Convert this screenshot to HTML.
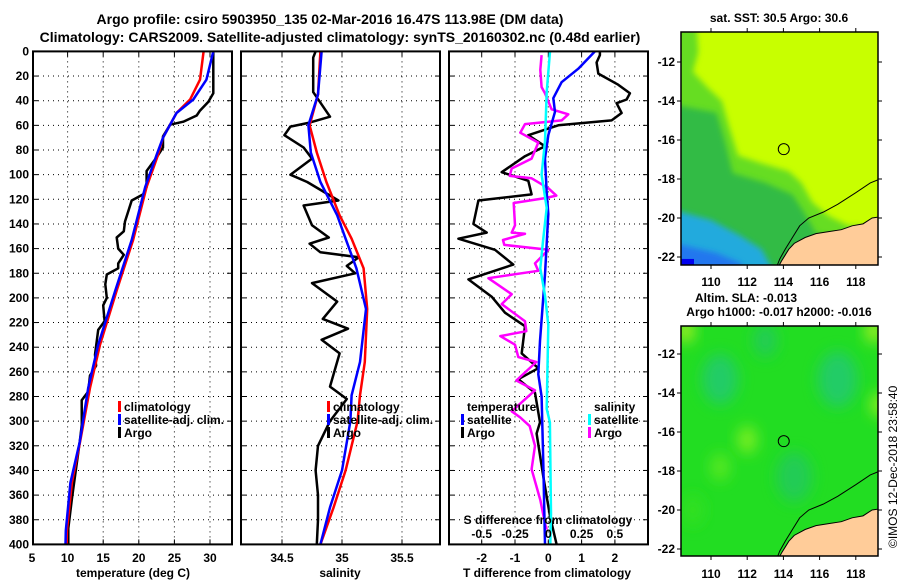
<!DOCTYPE html>
<html><head><meta charset="utf-8"><style>
html,body{margin:0;padding:0;background:#fff;width:900px;height:580px;overflow:hidden}
svg text{font-family:"Liberation Sans",Arial,sans-serif;font-weight:bold;font-size:12px;fill:#000}
</style></head><body>
<svg id="fig" xmlns="http://www.w3.org/2000/svg" width="900" height="580" viewBox="0 0 900 580">
<defs>
<filter id="blur6" x="-50%" y="-50%" width="200%" height="200%"><feGaussianBlur stdDeviation="7"/></filter>
<filter id="blur3"><feGaussianBlur stdDeviation="3"/></filter>
<clipPath id="cm1"><rect x="681" y="32" width="197" height="233"/></clipPath>
<clipPath id="cm2"><rect x="681" y="326" width="197" height="230"/></clipPath>
</defs>
<text x="330" y="24" text-anchor="middle" style="font-size:14px">Argo profile: csiro 5903950_135 02-Mar-2016 16.47S 113.98E (DM data)</text>
<text x="340" y="42" text-anchor="middle" style="font-size:14px">Climatology: CARS2009. Satellite-adjusted climatology: synTS_20160302.nc (0.48d earlier)</text>
<g id="g1"></g>
<g id="g2"></g>
<g id="g3"></g>
<g id="m1"></g>
<g id="m2"></g>
<text x="0" y="0" transform="translate(897,548) rotate(-90)" style="font-weight:normal;font-size:12px">©IMOS 12-Dec-2018 23:58:40</text>
</svg>
<script>
// ---- data ----
const depthTicks=[0,20,40,60,80,100,120,140,160,180,200,220,240,260,280,300,320,340,360,380,400];
const tempTicks=[5,10,15,20,25,30];
const salTicks=[34.5,35,35.5];
const salTickLabels=["34.5","35","35.5"];
const tdTicks=[-2,-1,0,1,2];
const sdTickLabels=["-0.5","-0.25","0","0.25","0.5"];
const sdTicks=[-0.5,-0.25,0,0.25,0.5];
const latTicks=[-12,-14,-16,-18,-20,-22];
const lonTicks=[110,112,114,116,118];

const climTDepth=[0,23,39,50,70,84,110,153,194,238,273,317,350,389,400];
const climT=[29.1,28.6,27.2,25.3,23.4,22.7,21.1,19.2,16.9,14.55,13.15,11.74,10.6,9.9,9.87];
const satT=[30.46,29.5,27.65,25.3,23.4,22.5,20.9,19.0,16.7,14.3,12.9,11.7,10.4,9.75,9.7];
const argoTDepth=[0,3,34,41,48,52,57,59.5,69,78,86,97,110,116,121,138,146,151,160,165,172,176,181,189,200,206,219,226,246,255,263,276,283,303,317,344,363,387,400];
const argoT=[30.46,30.46,30.46,29.76,28.6,28.13,26.25,24.4,23.4,23.4,22.5,21.1,21.1,20.6,19.0,18.06,17.9,16.9,17.1,17.9,17.1,17.1,15.5,15.3,15.5,15.0,15.2,14.3,13.85,14.0,13.15,12.9,11.98,12.0,11.7,11.05,10.6,10.1,10.1];

const climSDepth=[0,35,60,82,106,133,152,176,209,252,279,300,340,370,400];
const climS=[34.82,34.8,34.73,34.79,34.87,34.98,35.08,35.18,35.21,35.19,35.15,35.13,35.03,34.93,34.82];
const satS=[34.83,34.8,34.72,34.74,34.82,34.96,35.03,35.12,35.2,35.15,35.08,35.07,35.0,34.9,34.82];
const argoSDepth=[0,5,33,53,58,61,68,78,87,100,106,121,125,141,151,156,163,167,174,180,188,203,217,225,234,245,272,282,300,320,340,360,380,400];
const argoS=[34.78,34.76,34.76,34.9,34.72,34.57,34.52,34.68,34.75,34.57,34.71,34.97,34.68,34.75,34.89,34.73,34.82,35.14,35.04,35.11,34.75,34.96,34.84,35.05,34.83,34.98,34.9,35.04,34.9,34.8,34.78,34.8,34.8,34.79];

const dArgoTDepth=[0,3,9,18,27,34,39,42,50,56,60,68,77,85,98,105,116,121,140,147,152,161,173,185,199,212,223,245,257,266,277,301,310,345,377,400];
const dArgoT=[1.55,1.55,1.45,1.5,2.1,2.45,2.35,2.05,2.2,1.9,0.3,-0.6,-0.1,-0.7,-1.4,-0.6,-0.5,-2.1,-2.25,-1.85,-2.7,-1.6,-1.05,-2.4,-1.7,-1.3,-0.7,-0.8,-0.3,-0.9,-0.4,-0.25,-0.35,-0.15,0.05,0.25];
const dSatTDepth=[0,14,25,38,49,68,87,113,132,181,235,262,280,334,400];
const dSatT=[1.4,0.9,0.4,0.15,0.2,0,-0.1,-0.05,0,-0.1,-0.25,-0.3,-0.2,-0.15,-0.1];
const dSatSDepth=[0,33,73,100,127,154,176,198,222,290,301,375,400];
const dSatS=[0.013,-0.012,-0.025,-0.05,-0.012,-0.04,-0.06,-0.025,0,-0.012,0.012,0.02,0.015];
const dArgoSDepth=[3,15,29,34,47,51,56,59,66,74,87,95,101,103,111,117,119,123,141,147,148,153,157,161,172,178,184,197,205,219,227,231,238,248,252,267,275,292,297,304,320,339,364,383,388];
const dArgoS=[-0.05,-0.06,-0.05,-0.025,0.025,0.15,0.1,-0.175,-0.21,-0.075,-0.125,-0.275,-0.29,-0.125,0,0.06,-0.025,-0.26,-0.25,-0.275,-0.175,-0.34,-0.33,0,-0.1,-0.075,-0.45,-0.275,-0.35,-0.175,-0.165,-0.36,-0.25,-0.225,-0.09,-0.24,-0.1,-0.275,-0.21,-0.14,-0.1,-0.125,-0.06,-0.025,-0.012];

const argoLon=[114.02];
const argoLat=[-16.47];
// ---- helpers ----
const NS="http://www.w3.org/2000/svg";
function mk(parent,tag,attrs,txt){const e=document.createElementNS(NS,tag);for(const k in attrs)e.setAttribute(k,attrs[k]);if(txt!==undefined)e.textContent=txt;parent.appendChild(e);return e;}
const Y0=51.4,Y1=544.4,yD=d=>Y0+(Y1-Y0)*d/400;
function panel(g,x0,x1,name){
  const r=mk(g,'rect',{x:x0,y:Y0,width:x1-x0,height:Y1-Y0,fill:'#fff'});
  
  
}
function frame(g,x0,x1,name){
  const r=mk(g,'rect',{x:x0,y:Y0,width:x1-x0,height:Y1-Y0,fill:'none',stroke:'#000','stroke-width':2});
  
  
}
function hgrid(g,x0,x1,labels,name){
  depthTicks.forEach(d=>{const y=yD(d);
    if(d>0&&d<400){const l=mk(g,'line',{x1:x0,x2:x1,y1:y,y2:y,stroke:'#000','stroke-dasharray':'1 4','stroke-width':1});
      
      }
    const t1=mk(g,'line',{x1:x0,x2:x0+5,y1:y,y2:y,stroke:'#000'});
    const t2=mk(g,'line',{x1:x1-5,x2:x1,y1:y,y2:y,stroke:'#000'});
    if(labels){const t=mk(g,'text',{x:x0-4,y:y+4,'text-anchor':'end'},String(d));}
  });
}
function vgrid(g,xs,lbls,xf,name,ly){
  xs.forEach((v,i)=>{const x=xf(v);
    const l=mk(g,'line',{x1:x,x2:x,y1:Y0,y2:Y1,stroke:'#000','stroke-dasharray':'1 4'});
    const tk=mk(g,'line',{x1:x,x2:x,y1:Y1-5,y2:Y1,stroke:'#000'});
    const tk2=mk(g,'line',{x1:x,x2:x,y1:Y0,y2:Y0+5,stroke:'#000'});
    if(lbls){const t=mk(g,'text',{x:x,y:ly,'text-anchor':'middle'},lbls[i]);}
  });
}
function line(g,depths,vals,xf,color,name,w){
  const pts=depths.map((d,i)=>xf(vals[i]).toFixed(1)+','+yD(d).toFixed(1)).join(' ');
  const p=mk(g,'polyline',{points:pts,fill:'none',stroke:color,'stroke-width':w||2.5,'stroke-linejoin':'round'});
  
  
}
function legend(g,x,y,color,label,name){
  const m=mk(g,'rect',{x:x,y:y-10,width:3,height:11,fill:color});
  
  
  if(label){const t=mk(g,'text',{x:x+6,y:y},label);
  
  }
}
function txt(g,x,y,s,anchor,name){const t=mk(g,'text',{x:x,y:y,'text-anchor':anchor||'start'},s);
  
  return t;}

// ---- panel 1 temperature ----
const g1=document.getElementById('g1');
const xT=v=>32+(v-5)*7.12;
panel(g1,33,232,'temperature');
hgrid(g1,33,232,true,'temperature');
vgrid(g1,tempTicks.slice(1),tempTicks.slice(1).map(String),xT,'temperature',562);
txt(g1,32,562,'5','middle','temperature-x-tick-label');
line(g1,argoTDepth,argoT,xT,'#000','argo-temperature-line');
line(g1,climTDepth,climT,xT,'#f00','climatology-temperature-line');
line(g1,climTDepth,satT,xT,'#00f','satellite-temperature-line');
frame(g1,33,232,'temperature');
legend(g1,118,411,'#f00','climatology','legend-climatology');
legend(g1,118,424,'#00f','satellite-adj. clim.','legend-satellite');
legend(g1,118,437,'#000','Argo','legend-argo');
txt(g1,133,577,'temperature (deg C)','middle','x-axis-title-temperature');

// ---- panel 2 salinity ----
const g2=document.getElementById('g2');
const xS=v=>282+(v-34.5)*120;
panel(g2,241,440,'salinity');
hgrid(g2,241,440,false,'salinity');
vgrid(g2,salTicks,salTickLabels,xS,'salinity',562);
line(g2,argoSDepth,argoS,xS,'#000','argo-salinity-line');
line(g2,climSDepth,climS,xS,'#f00','climatology-salinity-line');
line(g2,climSDepth,satS,xS,'#00f','satellite-salinity-line');
frame(g2,241,440,'salinity');
legend(g2,327,411,'#f00','climatology','legend-climatology-s');
legend(g2,327,424,'#00f','satellite-adj. clim.','legend-satellite-s');
legend(g2,327,437,'#000','Argo','legend-argo-s');
txt(g2,340,577,'salinity','middle','x-axis-title-salinity');

// ---- panel 3 differences ----
const g3=document.getElementById('g3');
const xD=v=>548.3+v*33.3;
const xSD=v=>548.3+v*4*33.3;
panel(g3,449,648,'difference');
hgrid(g3,449,648,false,'difference');
vgrid(g3,tdTicks,tdTicks.map(String),xD,'t-difference',562);
line(g3,dArgoTDepth,dArgoT,xD,'#000','argo-t-difference-line');
line(g3,dArgoSDepth,dArgoS,xSD,'#f0f','argo-s-difference-line');
line(g3,dSatTDepth,dSatT,xD,'#00f','satellite-t-difference-line');
line(g3,dSatSDepth,dSatS,xSD,'#0ff','satellite-s-difference-line');
frame(g3,449,648,'difference');
txt(g3,467,411,'temperature','start','legend-temperature-heading');
legend(g3,461,424,'#00f','satellite','legend-t-satellite');
legend(g3,461,437,'#000','Argo','legend-t-argo');
txt(g3,594,411,'salinity','start','legend-salinity-heading');
legend(g3,588,424,'#0ff','satellite','legend-s-satellite');
legend(g3,588,437,'#f0f','Argo','legend-s-argo');
txt(g3,548,524,'S difference from climatology','middle','s-axis-title');
sdTicks.forEach((v,i)=>{txt(g3,xSD(v),538,sdTickLabels[i],'middle','s-difference-tick-label');});
txt(g3,547,577,'T difference from climatology','middle','x-axis-title-t-difference');

// ---- maps ----
function drawMap(id,top,bot,lat12y,kind,lblY){
  const g=document.getElementById(id);
  const L=681,R=878;
  const lx=v=>711+(v-110)*18.1;
  const ly=v=>lat12y+(-12-v)*19.5;
  const clip=mk(g,'g',{'clip-path':'url(#c'+id+')'});
  
  
  const P=(pts,fill,f)=>mk(clip,'polygon',{points:pts.map(p=>lx(p[0])+','+ly(p[1])).join(' '),fill:fill,filter:f||'url(#blur3)'});
  if(kind==='sst'){
    mk(clip,'rect',{x:L,y:top,width:R-L,height:bot-top,fill:'#c8ff00'});
    P([[108,-10],[109.2,-10],[109.3,-11.5],[109,-12.5],[109.8,-13.3],[110.6,-14],[111,-15.3],[111.5,-16.8],[112.8,-17.2],[114.3,-17.6],[115,-18.2],[115.6,-19.2],[116.5,-19.9],[117.6,-20.4],[120,-20.5],[120,-23],[108,-23]],'#66dd22');
    P([[108,-14.2],[110.3,-14.6],[110.8,-16.2],[111.2,-17.7],[113,-18.2],[114.5,-18.8],[115.2,-19.8],[115.8,-20.8],[120,-21.5],[120,-23],[108,-23]],'#33bb44');
    P([[108,-19.6],[110,-20.1],[111.6,-20.9],[112.8,-21.6],[113.5,-22.8],[108,-22.8]],'#22aadd');
    P([[108,-21.3],[110.3,-21.8],[111.6,-22.3],[112,-22.8],[108,-22.8]],'#2277ee');
    mk(clip,'rect',{x:L,y:ly(-22.1),width:13,height:12,fill:'#0000ee'});
  } else {
    mk(clip,'rect',{x:L,y:top,width:R-L,height:bot-top,fill:'#22dd22'});
    [[110.5,-13.3,18,'#22cc66'],[117,-13.3,20,'#22cc66'],[114.6,-18.3,18,'#22cc55'],[113,-11.3,12,'#22cc55'],[112,-16.4,10,'#77ee22'],[110.5,-17.8,10,'#55e822'],[119.3,-14.6,9,'#88ee22'],[108.6,-10.8,9,'#99ee22'],[119,-10.8,9,'#99ee22'],[109,-20,11,'#33e022']].forEach(b=>{
      mk(clip,'ellipse',{cx:lx(b[0]),cy:ly(b[1]),rx:b[2],ry:b[2]*1.4,fill:b[3],filter:'url(#blur6)'});
    });
  }
  const land=[[113.55,-22.8],[113.9,-22.2],[114.1,-21.9],[114.3,-21.6],[114.6,-21.3],[115.2,-21.0],[115.8,-20.8],[116.5,-20.7],[117.2,-20.6],[117.8,-20.4],[118.4,-20.3],[118.9,-20.0],[119.6,-19.9],[119.6,-22.8]];
  const lp=mk(clip,'polygon',{points:land.map(p=>lx(p[0])+','+ly(p[1])).join(' '),fill:'#ffcc99',stroke:'#000','stroke-width':1});
  
  
  const iso=[[113.5,-22.8],[113.8,-22.1],[114.1,-21.6],[114.5,-21.0],[114.9,-20.4],[115.4,-20.0],[116.2,-19.7],[117,-19.3],[118,-18.7],[118.8,-18.2],[119.6,-17.9]];
  const ip=mk(clip,'polyline',{points:iso.map(p=>lx(p[0])+','+ly(p[1])).join(' '),fill:'none',stroke:'#000','stroke-width':1});
  
  
  const c=mk(g,'circle',{cx:lx(argoLon[0]),cy:ly(argoLat[0]),r:5.5,fill:'none',stroke:'#000','stroke-width':1});
  
  
  const fr=mk(g,'rect',{x:L,y:top,width:R-L,height:bot-top,fill:'none',stroke:'#000','stroke-width':1.5});
  
  
  latTicks.forEach(v=>{const y=ly(v);
    const t=mk(g,'line',{x1:L-4,x2:L,y1:y,y2:y,stroke:'#000'});
    const t2=mk(g,'line',{x1:R,x2:R+4,y1:y,y2:y,stroke:'#000'});
    txt(g,L-6,y+4,String(v),'end','lat-tick-label');});
  lonTicks.forEach(v=>{const x=lx(v);
    const t=mk(g,'line',{x1:x,x2:x,y1:bot,y2:bot+4,stroke:'#000'});
    const t2=mk(g,'line',{x1:x,x2:x,y1:top-4,y2:top,stroke:'#000'});
    txt(g,x,lblY,String(v),'middle','lon-tick-label');});
}
drawMap('m1',32,265,62,'sst',286);
drawMap('m2',326,556,354,'sla',578);
const m1=document.getElementById('m1'),m2=document.getElementById('m2');
txt(m1,779,22,'sat. SST: 30.5 Argo: 30.6','middle','sst-map-title');
txt(m2,695,302,'Altim. SLA: -0.013','start','sla-map-title');
txt(m2,779,316,'Argo h1000: -0.017 h2000: -0.016','middle','sla-map-subtitle');
</script>
</body></html>
